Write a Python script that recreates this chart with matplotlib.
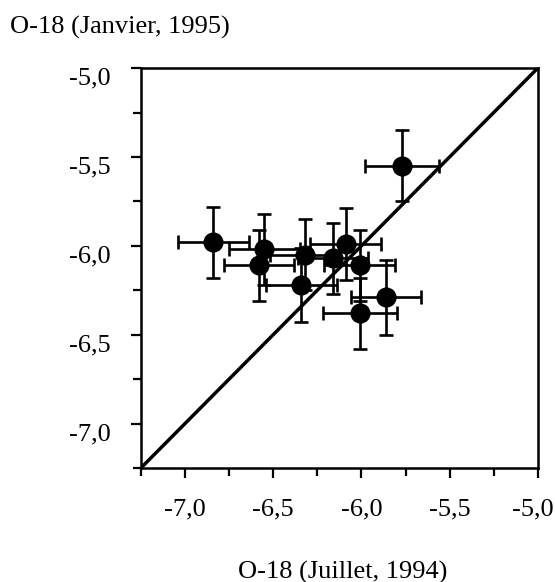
import matplotlib
matplotlib.use("Agg")
import matplotlib.pyplot as plt
from matplotlib.ticker import FixedLocator, FixedFormatter
from matplotlib.transforms import ScaledTranslation

# O-18 values, July 1994 (x) against January 1995 (y)
juillet = [-6.84, -6.55, -6.58, -6.32, -6.34, -6.16, -6.09, -6.01, -5.86, -6.01, -5.77]
janvier = [-5.98, -6.02, -6.11, -6.05, -6.22, -6.07, -5.99, -6.11, -6.29, -6.38, -5.55]
err_x = [0.20, 0.20, 0.20, 0.20, 0.20, 0.20, 0.20, 0.20, 0.20, 0.21, 0.21]
err_y = [0.20, 0.20, 0.20, 0.20, 0.21, 0.20, 0.20, 0.20, 0.21, 0.20, 0.20]

major_ticks = [-7.0, -6.5, -6.0, -5.5, -5.0]
minor_ticks = [-7.25, -6.75, -6.25, -5.75, -5.25]
tick_labels = ["-7,0", "-6,5", "-6,0", "-5,5", "-5,0"]
limits = [-7.25, -5.0]

plt.rcParams["font.family"] = ["Liberation Serif", "DejaVu Serif"]

fig = plt.figure(figsize=(5.55, 5.82), dpi=100)
ax = fig.add_axes([0.254, 0.196, 0.715, 0.687])

# 1:1 line
ax.plot(limits, limits, color="black", lw=2.5, zorder=2)

ax.errorbar(juillet, janvier, xerr=err_x, yerr=err_y, fmt="o", color="black",
            ms=13.5, elinewidth=1.9, capsize=5, capthick=1.9, zorder=3)

ax.set_xlim(limits)
ax.set_ylim(limits)

for axis in (ax.xaxis, ax.yaxis):
    axis.set_major_locator(FixedLocator(major_ticks))
    axis.set_major_formatter(FixedFormatter(tick_labels))
    axis.set_minor_locator(FixedLocator(minor_ticks))

ax.tick_params(which="both", direction="out", width=1.6, labelsize=19, pad=15)
ax.tick_params(which="major", length=7)
ax.tick_params(which="minor", length=6)

for sp in ax.spines.values():
    sp.set_linewidth(1.8)

# y labels sit a little below their ticks in the original
shift_down = ScaledTranslation(0, -8 / 100, fig.dpi_scale_trans)
for lab in ax.get_yticklabels():
    lab.set_transform(lab.get_transform() + shift_down)
last = ax.get_xticklabels()[-1]
last.set_transform(last.get_transform() + ScaledTranslation(-5 / 100, 0, fig.dpi_scale_trans))

fig.text(10 / 555, 1 - 27 / 582, "O-18 (Janvier, 1995)", fontsize=19,
         ha="left", va="center")
fig.text(343 / 555, 1 - 572 / 582, "O-18 (Juillet, 1994)", fontsize=19,
         ha="center", va="center")

fig.savefig("out.png", dpi=100)
